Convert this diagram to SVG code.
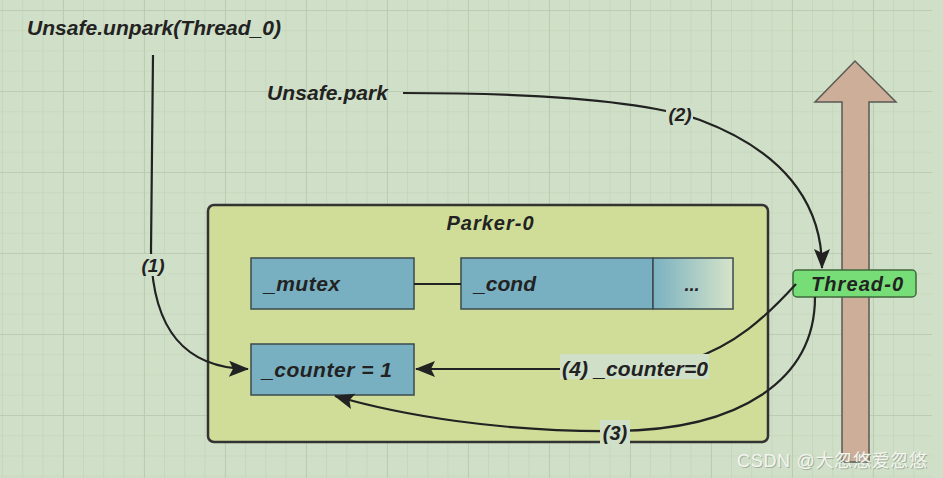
<svg xmlns="http://www.w3.org/2000/svg" width="943" height="478" viewBox="0 0 943 478">
<defs>
<pattern id="minor" patternUnits="userSpaceOnUse" x="2" y="10" width="20.25" height="20.25">
<path d="M0,0 H20.25 M0,0 V20.25" stroke="#c1d2b8" stroke-width="1.2" fill="none"/>
</pattern>
<pattern id="major" patternUnits="userSpaceOnUse" x="-18" y="10" width="81" height="81">
<path d="M0,0 H81 M0,0 V81" stroke="#b8c9ae" stroke-width="1.6" fill="none"/>
</pattern>
<linearGradient id="fade" x1="0" y1="0" x2="1" y2="0">
<stop offset="0" stop-color="#7ab1c1"/>
<stop offset="1" stop-color="#d6e4c9"/>
</linearGradient>
<marker id="arr" viewBox="0 0 20 16" refX="19" refY="8" markerWidth="20" markerHeight="16" markerUnits="userSpaceOnUse" orient="auto">
<path d="M0,0 L20,8 L0,16 L4,8 z" fill="#222"/>
</marker>
</defs>
<style>
.t{font-family:"Liberation Sans",Arial,sans-serif;font-weight:bold;font-style:italic;fill:#222;}
.box{fill:#78b0c2;stroke:#3d4a4c;stroke-width:1.5;}
.con{fill:none;stroke:#222;stroke-width:2.2;}
.lbg{fill:#d0dfc7;}
.wm{font-family:"Liberation Sans","Noto Sans CJK SC",sans-serif;font-size:18px;}
</style>
<rect x="0" y="0" width="943" height="478" fill="#d0dfc7"/>
<rect x="0" y="0" width="932" height="478" fill="url(#minor)"/>
<rect x="0" y="0" width="932" height="478" fill="url(#major)"/>

<g id="arrow-thread">
<path d="M842,462 L842,102 L815,102 L855,61 L896,102 L869,102 L869,462 Z" fill="#cdae99" stroke="#5a5a55" stroke-width="1.5"/>
</g>

<g id="label-unpark">
<text class="t" x="27" y="35" font-size="21" textLength="254">Unsafe.unpark(Thread_0)</text>
</g>
<g id="label-park">
<text class="t" x="267" y="100" font-size="21" textLength="121">Unsafe.park</text>
</g>

<g id="parker">
<rect x="208" y="205" width="560" height="237" rx="6" fill="#cfdd99" stroke="#333" stroke-width="2.5"/>
<text class="t" x="490" y="230" font-size="20" text-anchor="middle" textLength="87">Parker-0</text>
</g>
<g id="mutex">
<rect class="box" x="251" y="258" width="163" height="51"/>
<text class="t" x="264" y="291" font-size="21" textLength="76">_mutex</text>
</g>
<g id="cond">
<rect class="box" x="461" y="258" width="192" height="51"/>
<text class="t" x="474" y="291" font-size="21" textLength="62">_cond</text>
</g>
<g id="more">
<rect x="653" y="258" width="80" height="51" fill="url(#fade)" stroke="#3d4a4c" stroke-width="1.5"/>
<text class="t" x="692" y="291" font-size="18" text-anchor="middle">...</text>
</g>
<g id="counter">
<rect class="box" x="251" y="344" width="163" height="51"/>
<text class="t" x="262" y="377" font-size="21" textLength="130">_counter = 1</text>
</g>
<g id="thread0">
<rect x="793" y="270" width="123" height="27" rx="4" fill="#77dd77" stroke="#3e6b3e" stroke-width="1.5"/>
<text class="t" x="857" y="291" font-size="20" text-anchor="middle" textLength="92">Thread-0</text>
</g>

<g id="connectors">
<line class="con" x1="414" y1="284" x2="461" y2="284"/>
<path class="con" d="M153,55 L151,250 C152,330 185,368 248,369" marker-end="url(#arr)"/>
<path class="con" d="M403,93 C560,93 650,103 700,120 C780,150 822,200 822,268" marker-end="url(#arr)"/>
<path class="con" d="M815,297 C815,380 740,430 615,431 C500,432 400,415 335,396" marker-end="url(#arr)"/>
<path class="con" d="M796,284 C765,318 735,345 690,360 C660,368 640,369 600,369 L416,369" marker-end="url(#arr)"/>
<rect class="lbg" x="139" y="254" width="29" height="22"/>
<text class="t" x="153" y="272" font-size="19" text-anchor="middle">(1)</text>
<rect class="lbg" x="666" y="103" width="27" height="22"/>
<text class="t" x="680" y="121" font-size="19" text-anchor="middle">(2)</text>
<rect class="lbg" x="600" y="420" width="30" height="24"/>
<text class="t" x="615" y="440" font-size="20" text-anchor="middle">(3)</text>
<rect class="lbg" x="560" y="354" width="149" height="25"/>
<text class="t" x="562" y="376" font-size="21" textLength="146">(4) _counter=0</text>
</g>

<g id="watermark">
<text class="wm" x="738" y="468" fill="#8f9a8a" fill-opacity="0.7" textLength="190">CSDN @大忽悠爱忽悠</text>
<text class="wm" x="737" y="467" fill="#f3f5ef" textLength="190">CSDN @大忽悠爱忽悠</text>
</g>
</svg>
